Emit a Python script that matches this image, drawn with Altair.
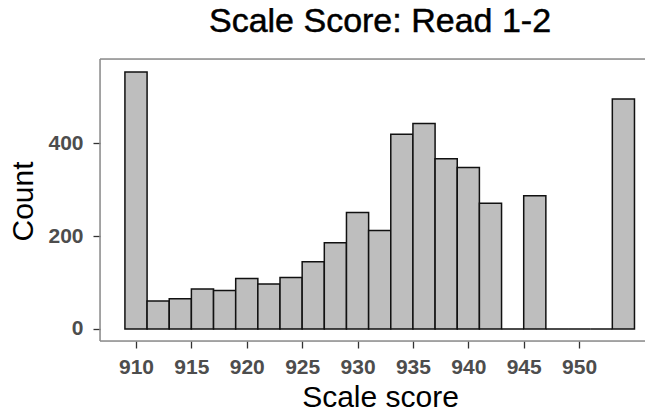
import altair as alt
import pandas as pd

# Histogram data (bin centre, count); bin width 2
bin_centers = [910, 912, 914, 916, 918, 920, 922, 924, 926, 928, 930, 932,
               934, 936, 938, 940, 942, 944, 946, 948, 950, 952, 954]
counts = [554, 60, 65, 86, 83, 109, 97, 111, 145, 186, 251, 212,
          420, 443, 367, 348, 271, 0, 287, 0, 0, 0, 496]
x_ticks = [910, 915, 920, 925, 930, 935, 940, 945, 950]
y_ticks = [0, 200, 400]
BIN_WIDTH = 2
TITLE = "Scale Score: Read 1-2"

df = pd.DataFrame({"center": bin_centers, "count": counts})
one = alt.Data(values=[{"k": 1}])

FONT = "Liberation Sans"
W, H = 545, 282
BORDER = "#8C8C8C"

bars = alt.Chart(df).transform_calculate(
    x0=f"datum.center - {BIN_WIDTH / 2}",
    x1=f"datum.center + {BIN_WIDTH / 2}",
).mark_rect(fill="#BEBEBE", stroke="#111111", strokeWidth=1.5).encode(
    x=alt.X("x0:Q",
            scale=alt.Scale(domain=[906.75, 955.95], nice=False, zero=False),
            axis=alt.Axis(values=x_ticks, title="Scale score", grid=False,
                          domain=False, ticks=True, tickSize=7, tickColor="#333333",
                          tickWidth=1.3,
                          labelFont=FONT, labelFontSize=21, labelFontWeight="bold",
                          labelColor="#4D4D4D", labelPadding=8,
                          titleFont=FONT, titleFontSize=30, titleFontWeight="normal",
                          titleColor="#000000", titleX=280, titleY=65,
                          titleBaseline="alphabetic", titleAlign="center")),
    x2="x1:Q",
    y=alt.Y("count:Q",
            scale=alt.Scale(domain=[-26, 582], nice=False, zero=False),
            axis=alt.Axis(values=y_ticks, title="Count", grid=False,
                          domain=False, ticks=True, tickSize=7, tickColor="#333333",
                          tickWidth=1.3,
                          labelFont=FONT, labelFontSize=21, labelFontWeight="bold",
                          labelColor="#4D4D4D", labelPadding=10,
                          titleFont=FONT, titleFontSize=30, titleFontWeight="normal",
                          titleColor="#000000", titleX=-77, titleY=142,
                          titleAngle=270, titleBaseline="middle", titleAlign="center")),
    y2=alt.datum(0),
)

# panel border (right edge lies outside the picture in the reference)
top_line = alt.Chart(one).mark_rule(color=BORDER, strokeWidth=1.5).encode(
    x=alt.value(0), x2=alt.value(W), y=alt.value(0))
left_line = alt.Chart(one).mark_rule(color=BORDER, strokeWidth=1.5).encode(
    x=alt.value(0), y=alt.value(0), y2=alt.value(H))
bottom_line = alt.Chart(one).mark_rule(color=BORDER, strokeWidth=1.5).encode(
    x=alt.value(0), x2=alt.value(W), y=alt.value(H))

title = alt.Chart(one).mark_text(font=FONT, fontSize=34, color="#000000",
                                 stroke="#000000", strokeWidth=0.5,
                                 align="center", baseline="alphabetic").encode(
    x=alt.value(280), y=alt.value(-27), text=alt.value(TITLE))

chart = alt.layer(top_line, left_line, bottom_line, bars, title).properties(
    width=W,
    height=H,
    autosize=alt.AutoSizeParams(type="none"),
    padding={"left": 92, "top": 51, "right": 0, "bottom": 66},
).configure_view(
    stroke=None
).configure(background="white")

chart.save("out.html", embed_options={"renderer": "svg", "actions": False})
